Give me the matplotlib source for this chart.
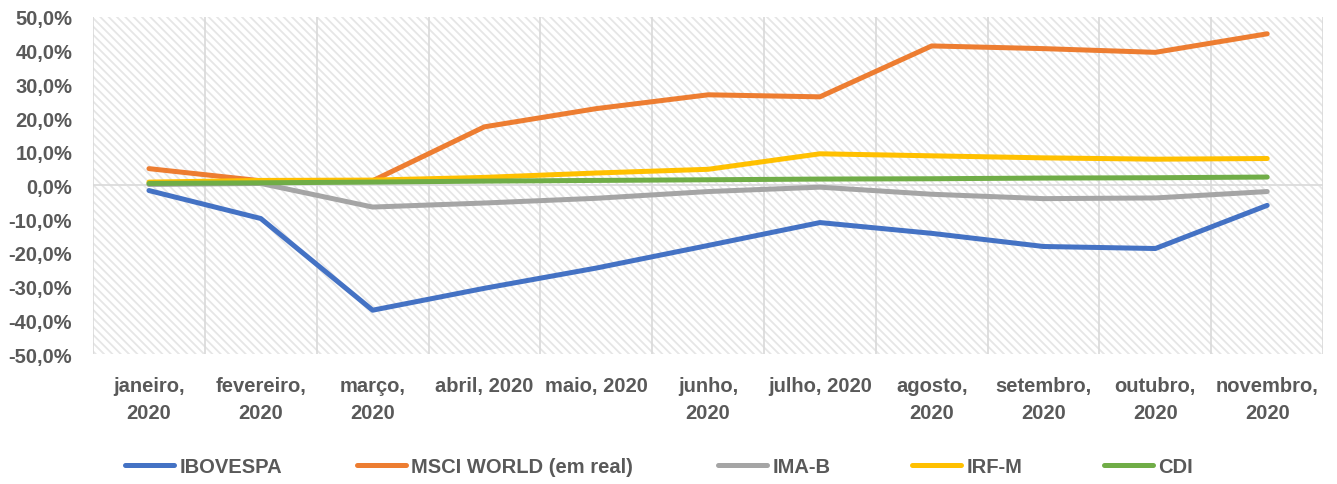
import matplotlib
matplotlib.use("Agg")
import matplotlib.pyplot as plt
from matplotlib.patches import Rectangle
from matplotlib.ticker import FuncFormatter

# categories (as wrapped in the original)
meses = ["janeiro,\n2020", "fevereiro,\n2020", "março,\n2020", "abril, 2020", "maio, 2020",
         "junho,\n2020", "julho, 2020", "agosto,\n2020", "setembro,\n2020", "outubro,\n2020",
         "novembro,\n2020"]

ibovespa = [-1.5, -9.8, -37.0, -30.5, -24.5, -17.8, -11.0, -14.2, -18.1, -18.7, -5.9]
msci = [5.0, 1.4, 1.4, 17.4, 22.8, 26.9, 26.3, 41.4, 40.6, 39.5, 45.0]
imab = [0.3, 0.6, -6.4, -5.2, -3.8, -1.8, -0.5, -2.6, -3.9, -3.7, -1.8]
irfm = [1.0, 1.5, 1.6, 2.4, 3.7, 4.8, 9.4, 8.8, 8.2, 7.8, 8.0]
cdi = [0.6, 0.8, 1.0, 1.3, 1.5, 1.7, 1.9, 2.0, 2.2, 2.3, 2.5]

series = [("IBOVESPA", ibovespa, "#4472C4"),
          ("MSCI WORLD (em real)", msci, "#ED7D31"),
          ("IMA-B", imab, "#A5A5A5"),
          ("IRF-M", irfm, "#FFC000"),
          ("CDI", cdi, "#70AD47")]

plt.rcParams["font.family"] = ["Liberation Sans", "DejaVu Sans"]
plt.rcParams["hatch.linewidth"] = 1.3

txt = "#595959"

fig = plt.figure(figsize=(13.37, 4.85), dpi=100)
ax = fig.add_axes([0.0696, 0.268, 0.92, 0.695])

ax.add_patch(Rectangle((0, 0), 1, 1, transform=ax.transAxes, facecolor="white",
                       edgecolor="#e6e6e6", hatch="\\\\\\\\", linewidth=0, zorder=0))

x = list(range(len(meses)))
lines = []
for nome, vals, cor in series:
    ln, = ax.plot(x, vals, color=cor, linewidth=3.6, solid_capstyle="round",
                  solid_joinstyle="round", label=nome, zorder=3)
    lines.append(ln)

ax.set_xlim(-0.5, len(meses) - 0.5)
ax.set_ylim(-50, 50)
ax.set_yticks(range(-50, 51, 10))
ax.yaxis.set_major_formatter(FuncFormatter(lambda v, p: f"{v:.1f}%".replace(".", ",")))
ax.set_xticks(x)
ax.set_xticklabels(meses, linespacing=1.5)
ax.set_xticks([i + 0.5 for i in range(-1, len(meses))], minor=True)
ax.grid(True, which="minor", axis="x", color="#d9d9d9", linewidth=1.2, zorder=1)
ax.axhline(0, color="#d9d9d9", linewidth=1.2, zorder=1)
ax.tick_params(axis="both", which="both", length=0)
ax.tick_params(axis="y", pad=15)
ax.tick_params(axis="x", pad=16)
for lab in ax.get_xticklabels() + ax.get_yticklabels():
    lab.set_fontsize(14.5)
    lab.set_fontweight("bold")
    lab.set_color(txt)
for s in ax.spines.values():
    s.set_visible(False)

# legend entries placed one by one, as in the original
leg_x = [125, 357, 718, 912, 1104]
for ln, lx in zip(lines, leg_x):
    leg = fig.legend([ln], [ln.get_label()], loc="center left",
                     bbox_to_anchor=(lx / 1337, 0.036), frameon=False,
                     borderpad=0, borderaxespad=0, handlelength=2.45, handletextpad=0.25,
                     prop={"size": 14.5, "weight": "bold"})
    for t in leg.get_texts():
        t.set_color(txt)

fig.savefig("out.png", dpi=100)
